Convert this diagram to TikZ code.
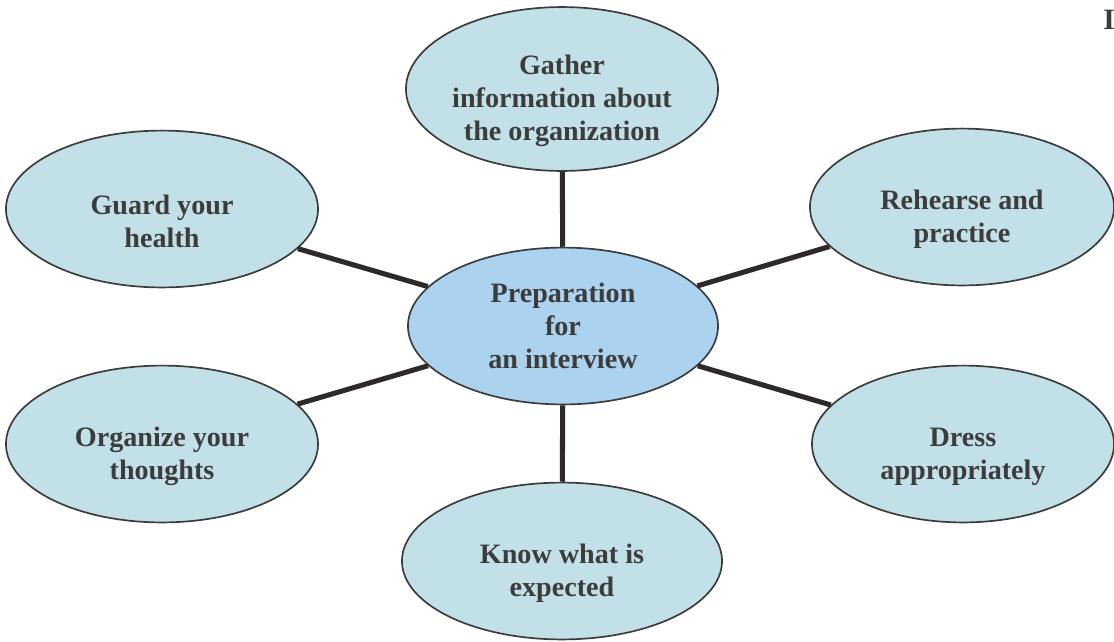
\documentclass[tikz,border=0pt]{standalone}
\usepackage{fontspec}
\setmainfont{Liberation Serif}
\usetikzlibrary{shapes.geometric}

\definecolor{topicfill}{HTML}{C2E0E8}
\definecolor{hubfill}{HTML}{ABD2EE}
\definecolor{inkgray}{HTML}{3C3C3C}
\definecolor{linkgray}{HTML}{2F2A2A}

% pushes the text of an outer ellipse a little down
\newcommand{\lift}{\rule{0pt}{31pt}}

\tikzset{
    hub/.style={ellipse,draw=inkgray,line width=1.2pt,fill=hubfill,
        text=inkgray,font=\fontsize{20}{23.5}\selectfont\bfseries,align=center,
        inner xsep=-8pt,inner ysep=0pt,minimum width=7.75cm,minimum height=3.92cm},
    topic/.style={hub,fill=topicfill,minimum width=7.8cm},
    link/.style={draw=linkgray,line width=3.6pt}
}

\begin{document}
\begin{tikzpicture}[x=0.025cm,y=-0.025cm]
                \useasboundingbox (0,0) rectangle (1114,641);

                \node[hub] (prep) at (563,326) {Preparation\\for\\an interview};

                \node[topic] (gather) at (562,89) {\lift Gather\\information about\\the organization};
                \node[topic] (guard) at (162,209) {\lift Guard your\\health};
                \node[topic,minimum width=7.6cm] (rehearse) at (962,207) {\lift Rehearse and\\practice};
                \node[topic] (organize) at (162,444) {\lift Organize your\\thoughts};
                \node[topic,minimum width=7.55cm] (dress) at (963,444) {\lift Dress\\appropriately};
                \node[topic,minimum width=8cm] (know) at (562,561) {\lift Know what is\\expected};

                \node[text=inkgray,font=\fontsize{21}{24}\selectfont\bfseries] (edge) at (1109,20) {I};

                \foreach \t in {gather,guard,rehearse,organize,dress,know}{
                    \path[link] (prep) -- (\t);
                }
            \end{tikzpicture}
\end{document}
